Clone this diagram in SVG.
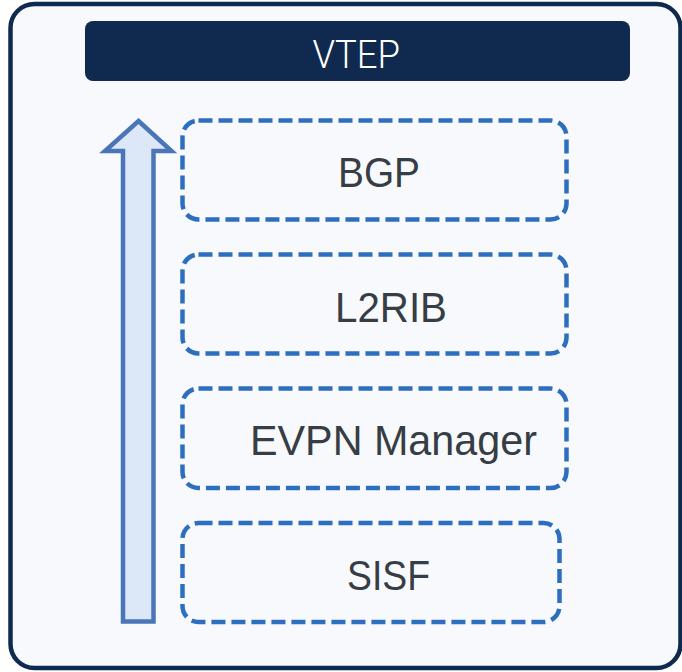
<svg xmlns="http://www.w3.org/2000/svg" width="682" height="672" viewBox="0 0 682 672">
<style>
.layer{fill:none;stroke:#2d6fbe;stroke-width:4.5;stroke-dasharray:14 6}
.lbl{font-family:"Liberation Sans",Arial,sans-serif;font-size:42px;fill:#363d45}
</style>
<rect width="682" height="672" fill="#ffffff"/>
<g id="vtep-container">
<rect x="10.5" y="4" width="670" height="664" rx="24" ry="24" fill="#f7f9fc" stroke="#0f2a4f" stroke-width="4.5"/>
</g>
<g id="vtep-header">
<rect x="85" y="21" width="545" height="60" rx="8" ry="8" fill="#10294f"/>
<text x="312.5" y="67.5" textLength="87.5" lengthAdjust="spacingAndGlyphs" style="font-family:Roboto,'Liberation Sans',sans-serif;font-weight:300;font-size:39px;fill:#ffffff">VTEP</text>
</g>
<g id="connectors">
<polygon points="138.5,121 171.5,151 153.5,151 153.5,621.5 123,621.5 123,151 105,151" fill="#dce8f8" stroke="#4a76b8" stroke-width="4.5" stroke-linejoin="miter"/>
</g>
<g id="bgp">
<rect class="layer" x="182.5" y="120.5" width="384" height="99" rx="16" ry="16"/>
<text class="lbl" x="338" y="186.5" textLength="82" lengthAdjust="spacingAndGlyphs">BGP</text>
</g>
<g id="l2rib">
<rect class="layer" x="182.5" y="254.5" width="384" height="99" rx="16" ry="16"/>
<text class="lbl" x="335" y="321.5" textLength="112" lengthAdjust="spacingAndGlyphs">L2RIB</text>
</g>
<g id="evpn-manager">
<rect class="layer" x="182.5" y="388.5" width="384" height="99.5" rx="16" ry="16"/>
<text class="lbl" x="250" y="455" textLength="287" lengthAdjust="spacingAndGlyphs">EVPN Manager</text>
</g>
<g id="sisf">
<rect class="layer" x="182.5" y="523" width="377" height="99" rx="16" ry="16"/>
<text class="lbl" x="347" y="590" textLength="83" lengthAdjust="spacingAndGlyphs">SISF</text>
</g>
</svg>
